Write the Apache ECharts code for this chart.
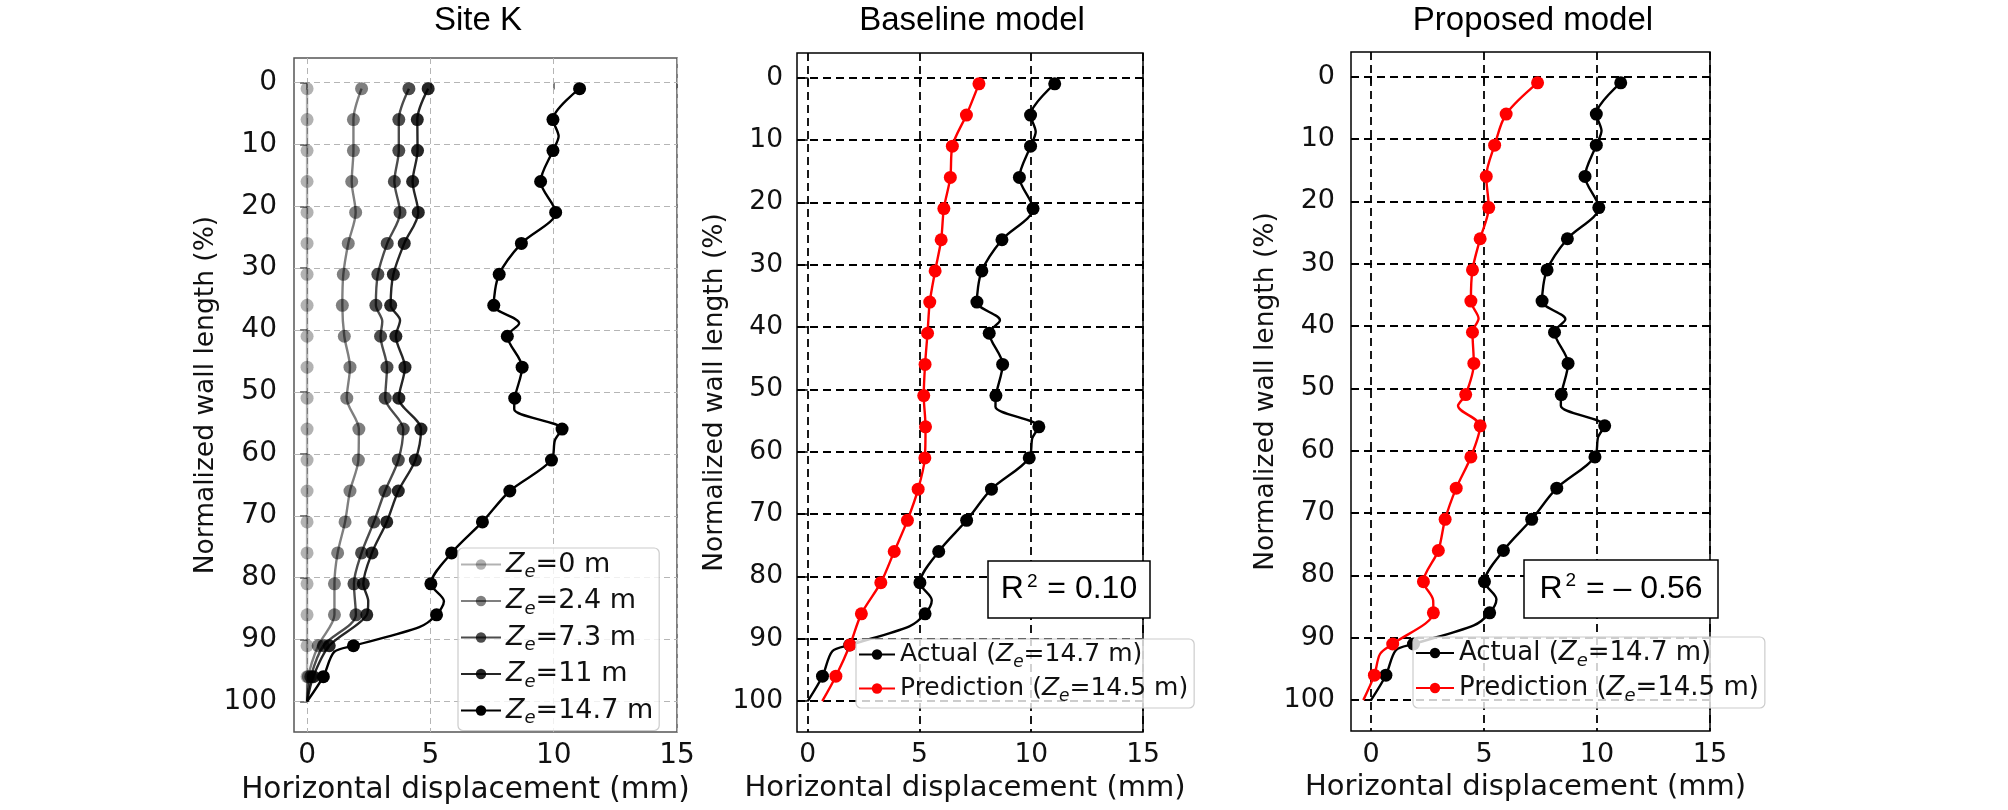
<!DOCTYPE html>
<html>
<head>
<meta charset="utf-8">
<title>Wall displacement profiles</title>
<script src="https://cdn.jsdelivr.net/npm/echarts@6/dist/echarts.min.js"></script>
<style>
  html, body { margin: 0; padding: 0; background: #fff; }
  #chart { width: 2008px; height: 810px; }
</style>
</head>
<body>
<div id="chart"></div>
<script>
// depth of every marked reading, % of wall length
var depths = [1, 6, 11, 16, 21, 26, 31, 36, 41, 46, 51, 56, 61, 66, 71, 76, 81, 86, 91, 96];

// Site K: horizontal displacement (mm) for each excavation depth Ze
var ze0  = [0, 0, 0, 0, 0, 0, 0, 0, 0, 0, 0, 0, 0, 0, 0, 0, 0, 0, 0, 0];
var ze24 = [2.21, 1.88, 1.88, 1.81, 1.97, 1.67, 1.47, 1.43, 1.51, 1.74, 1.61, 2.10, 2.08, 1.74, 1.54, 1.24, 1.11, 1.11, 0.45, 0.05];
var ze73 = [4.13, 3.72, 3.72, 3.54, 3.77, 3.25, 2.87, 2.79, 2.98, 3.24, 3.17, 3.90, 3.70, 3.16, 2.71, 2.21, 1.90, 1.98, 0.66, 0.15];
var ze11 = [4.91, 4.47, 4.48, 4.28, 4.51, 3.94, 3.50, 3.39, 3.60, 3.97, 3.72, 4.62, 4.39, 3.70, 3.23, 2.63, 2.28, 2.42, 0.90, 0.25];
var ze147 = [11.05, 9.97, 9.97, 9.47, 10.08, 8.69, 7.79, 7.57, 8.12, 8.72, 8.42, 10.34, 9.91, 8.22, 7.11, 5.86, 5.02, 5.25, 1.88, 0.66];

// predictions (mm)
var baseline = [7.66, 7.10, 6.47, 6.38, 6.09, 5.97, 5.70, 5.46, 5.36, 5.25, 5.19, 5.27, 5.24, 4.94, 4.46, 3.87, 3.27, 2.40, 1.89, 1.26];
var proposed = [7.37, 5.98, 5.47, 5.10, 5.21, 4.83, 4.49, 4.42, 4.49, 4.55, 4.19, 4.83, 4.42, 3.77, 3.28, 2.98, 2.32, 2.76, 0.96, 0.15];

// unmarked vertices of the curves, [mm, depth]
var ze0Extra = [[0, 100]];
var ze24Extra = [[0, 100]];
var ze73Extra = [[3.05, 38.6], [0, 100]];
var ze11Extra = [[3.77, 38.4], [2.48, 83.8], [0, 100]];
var ze147Extra = [[10.2, 8.7], [8.6, 38.9], [8.4, 52.8], [10.05, 57.8], [5.55, 83.8], [4.55, 88.0], [1.1, 92.0], [0, 100]];
var baselineExtra = [[0.65, 100]];
var proposedExtra = [[4.76, 38.8], [3.85, 52.8], [2.75, 84.0], [0.4, 92.6], [-0.34, 100]];

var xTicks = [0, 5, 10, 15];
var yTicks = [0, 10, 20, 30, 40, 50, 60, 70, 80, 90, 100];

var zeNames = ['Ze=0 m', 'Ze=2.4 m', 'Ze=7.3 m', 'Ze=11 m', 'Ze=14.7 m'];
var actualName = 'Actual (Ze=14.7 m)';
var predName = 'Prediction (Ze=14.5 m)';

function curve(values, extra) {
  var pts = depths.map(function (d, i) { return { value: [values[i], d] }; });
  extra.forEach(function (p) { pts.push({ value: p, symbol: 'none' }); });
  pts.sort(function (a, b) { return a.value[1] - b.value[1]; });
  return pts;
}

function lineSeries(name, idx, color, data) {
  return {
    name: name, type: 'line', xAxisIndex: idx, yAxisIndex: idx,
    data: data, smooth: 0.3, symbol: 'circle', symbolSize: 13, showAllSymbol: true,
    lineStyle: { color: color, width: 2.4 }, itemStyle: { color: color },
    z: 3, animation: false
  };
}

// dashed grid drawn as mark lines on the axis scales
function gridLines(idx, color, width, dash) {
  var lines = xTicks.map(function (v) { return { xAxis: v }; })
    .concat(yTicks.map(function (v) { return { yAxis: v }; }));
  return {
    type: 'line', xAxisIndex: idx, yAxisIndex: idx, data: [], z: 1, silent: true,
    markLine: {
      z: 1, silent: true, symbol: ['none', 'none'], label: { show: false }, animation: false,
      lineStyle: { color: color, width: width, type: dash }, data: lines
    }
  };
}

var font = 'DejaVu Sans';

function xAxisFor(idx, min, color, size, nameSize, namePad) {
  return {
    type: 'value', gridIndex: idx, min: min, max: 15,
    name: 'Horizontal displacement (mm)', nameLocation: 'middle', nameGap: 37,
    nameTextStyle: { fontFamily: font, fontSize: nameSize, color: '#111', padding: namePad },
    axisLine: { show: false }, splitLine: { show: false },
    axisTick: { show: true, length: 7, customValues: xTicks, lineStyle: { color: color, width: 1.5 } },
    axisLabel: { customValues: xTicks, margin: 10, fontFamily: font, fontSize: size, color: '#111' }
  };
}

function yAxisFor(idx, color, size, nameSize, margin, gap) {
  return {
    type: 'value', gridIndex: idx, inverse: true, min: -3.95, max: 104.95,
    name: 'Normalized wall length (%)', nameLocation: 'middle', nameGap: gap,
    nameTextStyle: { fontFamily: font, fontSize: nameSize, color: '#111' },
    axisLine: { show: false }, splitLine: { show: false },
    axisTick: { show: true, length: 7, customValues: yTicks, lineStyle: { color: color, width: 1.5 } },
    axisLabel: { customValues: yTicks, margin: margin, fontFamily: font, fontSize: size, color: '#111' }
  };
}

function zeLabel(name) {
  var parts = name.split('Ze');
  return '{n|' + parts[0] + '}{i|Z}{s|e}{n|' + parts[1] + '}';
}
function zeRich(size) {
  return {
    n: { fontFamily: font, fontSize: size, color: '#111' },
    i: { fontFamily: font, fontSize: size, fontStyle: 'italic', color: '#111' },
    s: { fontFamily: font, fontSize: Math.round(size * 0.68), fontStyle: 'italic', color: '#111', padding: [16, 0, 0, 0] }
  };
}
function legendFor(names, left, top, size, itemWidth, gap) {
  return {
    show: true, selectedMode: false, orient: 'vertical', left: left, top: top, data: names,
    itemWidth: itemWidth, itemHeight: 13, itemGap: gap, padding: [3, 6, 3, 2], z: 6,
    backgroundColor: 'rgba(255,255,255,0.8)', borderColor: '#cccccc', borderWidth: 1.2, borderRadius: 5,
    formatter: zeLabel, textStyle: { fontFamily: font, fontSize: size, color: '#111', rich: zeRich(size) }
  };
}

var zeColors = ['rgba(0,0,0,0.3)', 'rgba(0,0,0,0.5)', 'rgba(0,0,0,0.7)', 'rgba(0,0,0,0.85)', '#000'];
var zeValues = [ze0, ze24, ze73, ze11, ze147];
var zeExtras = [ze0Extra, ze24Extra, ze73Extra, ze11Extra, ze147Extra];

var series = [gridLines(0, '#b5b5b5', 1, [6, 4]), gridLines(1, '#000', 1.8, [8, 5]), gridLines(2, '#000', 1.8, [8, 5])];
zeNames.forEach(function (n, i) {
  series.push(lineSeries(n, 0, zeColors[i], curve(zeValues[i], zeExtras[i])));
});
series.push(lineSeries(actualName, 1, '#000', curve(ze147, ze147Extra)));
series.push(lineSeries(predName, 1, '#ff0000', curve(baseline, baselineExtra)));
series.push(lineSeries(actualName, 2, '#000', curve(ze147, ze147Extra)));
series.push(lineSeries(predName, 2, '#ff0000', curve(proposed, proposedExtra)));

var titleFont = '"Liberation Sans", Arial, sans-serif';
function title(text, x) {
  return { type: 'text', x: x, y: 21, z: 100,
    style: { text: text, fontFamily: titleFont, fontSize: 33, fill: '#000', align: 'center', verticalAlign: 'middle' } };
}
function r2Box(x, y, w, h, value) {
  return { type: 'group', children: [
    { type: 'rect', z: 100, shape: { x: x, y: y, width: w, height: h }, style: { fill: '#fff', stroke: '#000', lineWidth: 1.5 } },
    { type: 'text', z: 101, x: x + w / 2, y: y + h / 2,
      style: { text: '{a|R}{b|2}{a| = ' + value + '}', align: 'center', verticalAlign: 'middle',
        rich: {
          a: { fontFamily: titleFont, fontSize: 32, fill: '#000' },
          b: { fontFamily: titleFont, fontSize: 19, fill: '#000', padding: [0, 1, 16, 3] }
        } } }
  ] };
}

var chart = echarts.init(document.getElementById('chart'), null, { renderer: 'canvas' });
chart.setOption({
  backgroundColor: '#fff',
  animation: false,
  grid: [
    { left: 294, top: 58, width: 383, height: 677, show: true, borderColor: '#555', borderWidth: 1.5, backgroundColor: 'transparent' },
    { left: 797, top: 53, width: 346, height: 679, show: true, borderColor: '#000', borderWidth: 1.5, backgroundColor: 'transparent' },
    { left: 1351, top: 52, width: 359, height: 679, show: true, borderColor: '#000', borderWidth: 1.5, backgroundColor: 'transparent' }
  ],
  xAxis: [
    xAxisFor(0, -0.53, '#555', 28, 29.5, [0, 40, 0, 0]),
    xAxisFor(1, -0.48, '#000', 26.5, 29, [0, 10, 0, 0]),
    xAxisFor(2, -0.885, '#000', 27, 29, [0, 10, 0, 0])
  ],
  yAxis: [
    yAxisFor(0, '#555', 28, 26.5, 17, 55),
    yAxisFor(1, '#000', 26.5, 26.5, 14, 56),
    yAxisFor(2, '#000', 27, 26.5, 16, 53)
  ],
  legend: [
    legendFor(zeNames, 458, 548, 27, 40, 6),
    legendFor([actualName, predName], 856, 639, 25, 36, 5),
    legendFor([actualName, predName], 1413, 637, 26, 38, 5)
  ],
  graphic: [
    title('Site K', 478),
    title('Baseline model', 972),
    title('Proposed model', 1533),
    r2Box(988, 561, 162, 57, '0.10'),
    r2Box(1524, 560, 194, 58, '\u2013 0.56')
  ],
  series: series
});
</script>
</body>
</html>
